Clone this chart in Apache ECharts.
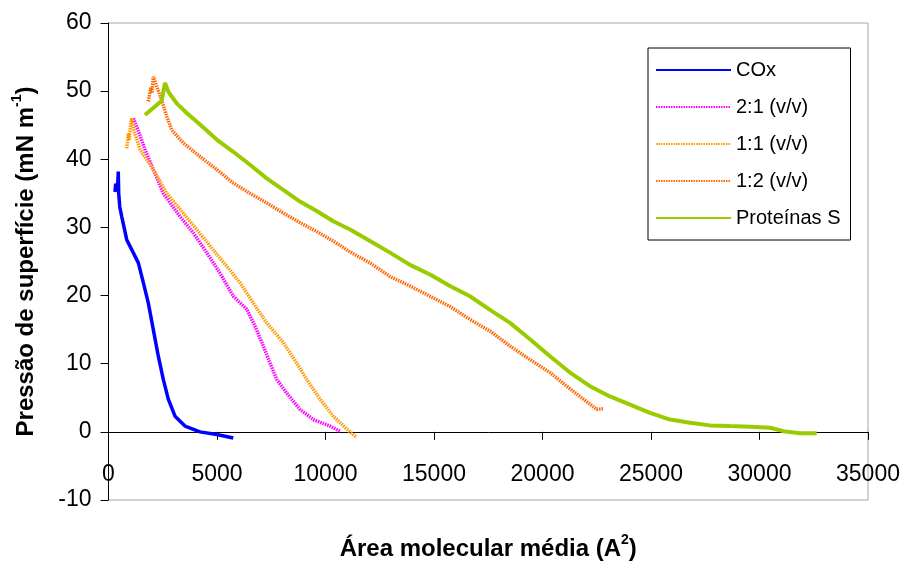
<!DOCTYPE html>
<html><head><meta charset="utf-8">
<script src="https://cdn.jsdelivr.net/npm/echarts@6/dist/echarts.min.js"></script>
<style>html,body{margin:0;padding:0;background:#fff}#c{width:905px;height:561px}</style>
</head><body><div id="c"></div>
<script>
var xTicks = [0, 5000, 10000, 15000, 20000, 25000, 30000, 35000];
var yTicks = [-10, 0, 10, 20, 30, 40, 50, 60];
var seriesNames = ['COx', '2:1 (v/v)', '1:1 (v/v)', '1:2 (v/v)', 'Proteínas S'];

var coxX = [300, 330, 420, 450, 470, 520, 610, 840, 1140, 1375, 1605, 1835, 2065, 2295, 2525, 2755, 3065, 3525, 4215, 4990, 5750];
var coxY = [35.2, 36.4, 36.0, 38.2, 35.0, 33.0, 31.6, 28.2, 26.3, 24.8, 21.9, 18.9, 15.0, 11.1, 7.7, 4.8, 2.3, 0.85, 0.0, -0.4, -0.9];

var r21X = [1150, 1300, 1450, 1682, 2065, 2525, 3295, 3908, 4525, 5138, 5751, 6369, 6751, 7134, 7442, 7751, 8212, 8825, 9438, 10207, 10667];
var r21Y = [46.0, 44.8, 43.5, 41.4, 38.5, 35.0, 31.6, 29.2, 26.3, 23.3, 19.9, 18.0, 15.5, 12.6, 10.1, 7.7, 5.7, 3.3, 1.8, 0.85, 0.1];

var r11X = [840, 920, 960, 1020, 1070, 1180, 1452, 2065, 2682, 3447, 4064, 4830, 5447, 6060, 6673, 7290, 8055, 8673, 9134, 9747, 10360, 10977, 11438];
var r11Y = [41.6, 43.8, 42.8, 45.2, 46.0, 44.2, 41.4, 38.5, 35.0, 32.1, 29.7, 26.7, 24.3, 21.9, 18.9, 16.0, 13.1, 10.1, 7.7, 4.8, 2.3, 0.4, -0.8];

var r12X = [1835, 1950, 2000, 2065, 2220, 2450, 2682, 2912, 3447, 4217, 4986, 5751, 6521, 7290, 8055, 8825, 9594, 10360, 11129, 12051, 12972, 13894, 14816, 15737, 16659, 17581, 18502, 19424, 20346, 21115, 21882, 22498, 22802];
var r12Y = [48.5, 50.5, 49.7, 52.1, 50.7, 48.7, 46.3, 44.3, 42.4, 40.4, 38.5, 36.5, 35.0, 33.6, 32.1, 30.7, 29.4, 28.0, 26.4, 24.8, 22.8, 21.4, 19.9, 18.4, 16.5, 14.8, 12.6, 10.6, 8.7, 6.7, 4.8, 3.3, 3.4];

var protX = [1682, 2450, 2604, 2760, 3143, 3604, 4217, 4986, 5751, 6521, 7290, 8055, 8825, 9594, 10360, 11129, 12051, 12972, 13894, 14816, 15737, 16659, 17581, 18502, 19424, 20346, 21267, 22189, 23111, 24032, 24954, 25876, 26797, 27719, 28641, 29562, 30484, 31098, 31866, 32635];
var protY = [46.5, 48.6, 51.2, 49.9, 48.2, 46.8, 45.1, 42.9, 41.1, 39.2, 37.2, 35.5, 33.8, 32.4, 30.9, 29.7, 28.0, 26.3, 24.5, 23.1, 21.4, 19.9, 17.9, 16.0, 13.6, 11.1, 8.7, 6.7, 5.2, 4.0, 2.8, 1.8, 1.35, 0.95, 0.85, 0.76, 0.6, 0.1, -0.2, -0.2];

function pairs(xs, ys) { return xs.map(function (x, i) { return [x, ys[i]]; }); }

var FONT = 'Liberation Sans, Arial, sans-serif';
var chart = echarts.init(document.getElementById('c'), null, { renderer: 'canvas' });

function mk(name, xs, ys, color, width, dash) {
  return {
    name: name, type: 'line', data: pairs(xs, ys), symbol: 'none', smooth: false,
    lineStyle: { color: color, width: width, type: dash || 'solid', cap: 'butt' },
    itemStyle: { color: color },
    emphasis: { disabled: true }, animation: false
  };
}
var richT = { fontFamily: FONT, fontSize: 24, fontWeight: 'bold', color: '#000', lineHeight: 28, verticalAlign: 'bottom' };
var richS = { fontFamily: FONT, fontSize: 14, fontWeight: 'bold', color: '#000', verticalAlign: 'top', lineHeight: 28 };

chart.setOption({
  animation: false,
  backgroundColor: '#ffffff',
  grid: { left: 108.5, top: 23, right: 37, bottom: 61, containLabel: false, outerBoundsMode: 'none', show: true, borderColor: '#a6a6a6', borderWidth: 1, backgroundColor: '#ffffff' },
  legend: {
    data: seriesNames, orient: 'vertical', left: 648, top: 48,
    padding: [12, 10, 12, 7], itemGap: 17, itemWidth: 75, itemHeight: 14,
    borderColor: '#000', borderWidth: 1, backgroundColor: '#fff',
    itemStyle: { opacity: 0 },
    textStyle: { fontFamily: FONT, fontSize: 20, color: '#000', lineHeight: 20 }
  },
  xAxis: {
    type: 'value', min: xTicks[0], max: xTicks[xTicks.length - 1], interval: 5000,
    axisLine: { onZero: true, lineStyle: { color: '#000', width: 1 } },
    axisTick: { show: true, inside: false, length: 8, lineStyle: { color: '#000' } },
    axisLabel: { margin: -37, fontFamily: FONT, fontSize: 23, color: '#000', formatter: function (v) { return String(v); } },
    splitLine: { show: false },
    name: '{t|Área molecular média (A}{s|2}{t|)}', nameLocation: 'middle', nameGap: 33,
    nameTextStyle: { rich: { t: richT, s: richS } }
  },
  yAxis: {
    type: 'value', min: yTicks[0], max: yTicks[yTicks.length - 1], interval: 10,
    axisLine: { onZero: false, lineStyle: { color: '#000', width: 1 } },
    axisTick: { show: true, inside: false, length: 8, lineStyle: { color: '#000' } },
    axisLabel: { margin: 17, fontFamily: FONT, fontSize: 23, color: '#000' },
    splitLine: { show: false },
    name: '{t|Pressão de superfície (mN m}{s|-1}{t|)}', nameLocation: 'middle', nameGap: 70, nameRotate: 90,
    nameTextStyle: { rich: { t: richT, s: richS } }
  },
  series: [
    mk(seriesNames[0], coxX, coxY, '#0000ff', 3.5),
    mk(seriesNames[1], r21X, r21Y, '#ff00ff', 3.5, [1.5, 1]),
    mk(seriesNames[2], r11X, r11Y, '#ff9900', 3.5, [1.5, 1]),
    mk(seriesNames[3], r12X, r12Y, '#ff6600', 3.5, [1.5, 1]),
    mk(seriesNames[4], protX, protY, '#99cc00', 4)
  ]
});
</script></body></html>
